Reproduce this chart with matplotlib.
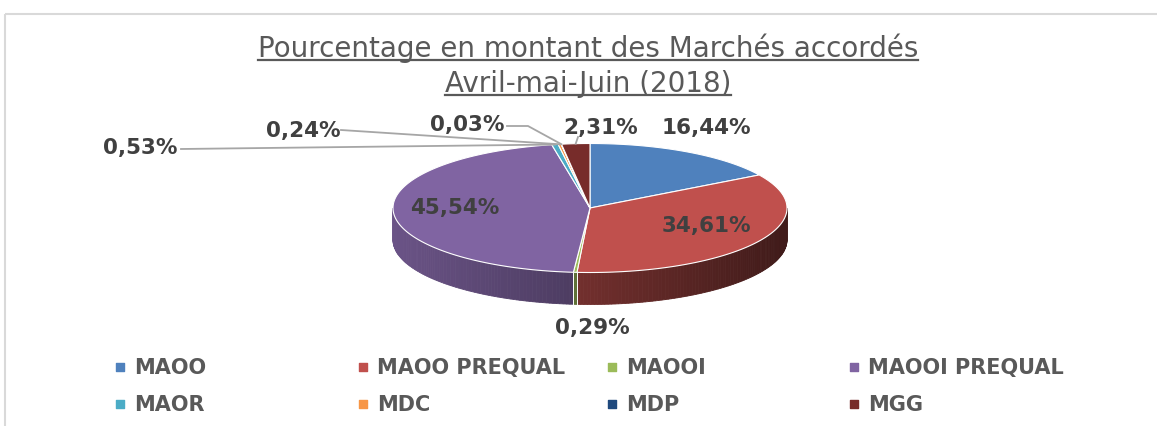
import numpy as np
import matplotlib.pyplot as plt
from matplotlib.patches import Polygon, Rectangle
from matplotlib.colors import to_rgb

categories = ["MAOO", "MAOO PREQUAL", "MAOOI", "MAOOI PREQUAL",
              "MAOR", "MDC", "MDP", "MGG"]
shares = [16.44, 34.61, 0.29, 45.54, 0.53, 0.24, 0.03, 2.31]
colors = ["#4f81bd", "#c0504d", "#9bbb59", "#8064a2",
          "#4bacc6", "#f79646", "#1f497d", "#772c2a"]
labels = [f"{v:.2f}%".replace(".", ",") for v in shares]

# label centre positions (pixels) and leader start points (None = no leader)
label_pos = [(706, 128), (706, 226), (592, 328), (455, 208),
             (140, 148), (303, 131), (467, 125), (601, 128)]
leader_from = [None, None, None, None,
               [(181, 150)], [(341, 131)], [(507, 127), (528, 127)], [(578, 138)]]

W, H = 1157, 427
cx, cy, rx, ry, depth = 590, 209, 197, 64.5, 32

fig = plt.figure(figsize=(W / 100, H / 100), dpi=100)
ax = fig.add_axes([0, 0, 1, 1])
ax.set_xlim(0, W)
ax.set_ylim(H, 0)
ax.axis("off")

# chart border (cropped)
ax.add_patch(Rectangle((5, 15), W + 20, H + 20, fill=False, ec="#d9d9d9", lw=1.5))


def pt(theta, dy=0.0):
    t = np.radians(theta)
    return cx + rx * np.cos(t), cy - ry * np.sin(t) + dy


total = sum(shares)
bounds = [90.0]
for v in shares:
    bounds.append(bounds[-1] - v / total * 360.0)

# side walls (front half only), shaded strips
for i, col in enumerate(colors):
    a1, a2 = bounds[i], bounds[i + 1]
    hi, lo = min(a1, 0.0), max(a2, -180.0)
    if hi <= lo:
        continue
    base = np.array(to_rgb(col))
    steps = max(2, int((hi - lo) / 1.0))
    ts = np.linspace(hi, lo, steps + 1)
    for t0, t1 in zip(ts[:-1], ts[1:]):
        tm = np.radians((t0 + t1) / 2)
        f = 0.58 - 0.25 * np.cos(tm)
        c = np.clip(base * f, 0, 1)
        p0, p1 = pt(t0), pt(t1)
        q1, q0 = pt(t1, depth), pt(t0, depth)
        ax.add_patch(Polygon([p0, p1, q1, q0], closed=True,
                             fc=c, ec=c, lw=0.6, zorder=2))
    # seams of the wall edges
    for t in (hi, lo):
        if -180.0 < t < 0.0:
            x0, y0 = pt(t)
            ax.plot([x0, x0], [y0, y0 + depth], color="white", lw=0.6, zorder=3)

# top face
for i, col in enumerate(colors):
    a1, a2 = bounds[i], bounds[i + 1]
    ts = np.linspace(a1, a2, max(3, int(abs(a1 - a2) * 2)))
    poly = [(cx, cy)] + [pt(t) for t in ts]
    ax.add_patch(Polygon(poly, closed=True, fc=col, ec="white", lw=0.8, zorder=4))

# labels and leader lines
for i, txt in enumerate(labels):
    x, y = label_pos[i]
    ax.text(x, y, txt, ha="center", va="center", fontsize=15.5,
            fontweight="bold", color="#404040", zorder=6)
    if leader_from[i] is not None:
        tm = (bounds[i] + bounds[i + 1]) / 2
        ex, ey = pt(tm)
        pts = leader_from[i] + [(ex, ey)]
        ax.plot([p[0] for p in pts], [p[1] for p in pts],
                color="#a6a6a6", lw=1.3, zorder=5)

# title (underlined)
title_lines = ["Pourcentage en montant des Marchés accordés", "Avril-mai-Juin (2018)"]
title_base = [57, 92]
tobjs = []
for line, ty in zip(title_lines, title_base):
    tobjs.append(ax.text(588, ty, line, ha="center", va="baseline",
                         fontsize=20, color="#595959"))

# legend, 4 columns x 2 rows
leg_x = [120, 363, 612, 854]
leg_y = [368, 405]
for i, name in enumerate(categories):
    x, y = leg_x[i % 4], leg_y[i // 4]
    ax.scatter([x], [y], marker="s", s=30, color=colors[i], zorder=6)
    ax.text(x + 14, y, name, ha="left", va="center", fontsize=15,
            fontweight="bold", color="#595959")

fig.canvas.draw()
inv = ax.transData.inverted()
for t, ty in zip(tobjs, title_base):
    bb = t.get_window_extent()
    (x0, _), (x1, _) = inv.transform([(bb.x0, bb.y0), (bb.x1, bb.y1)])
    ax.plot([x0, x1], [ty + 4, ty + 4], color="#595959", lw=1.6)

fig.savefig("out.png", dpi=100)
